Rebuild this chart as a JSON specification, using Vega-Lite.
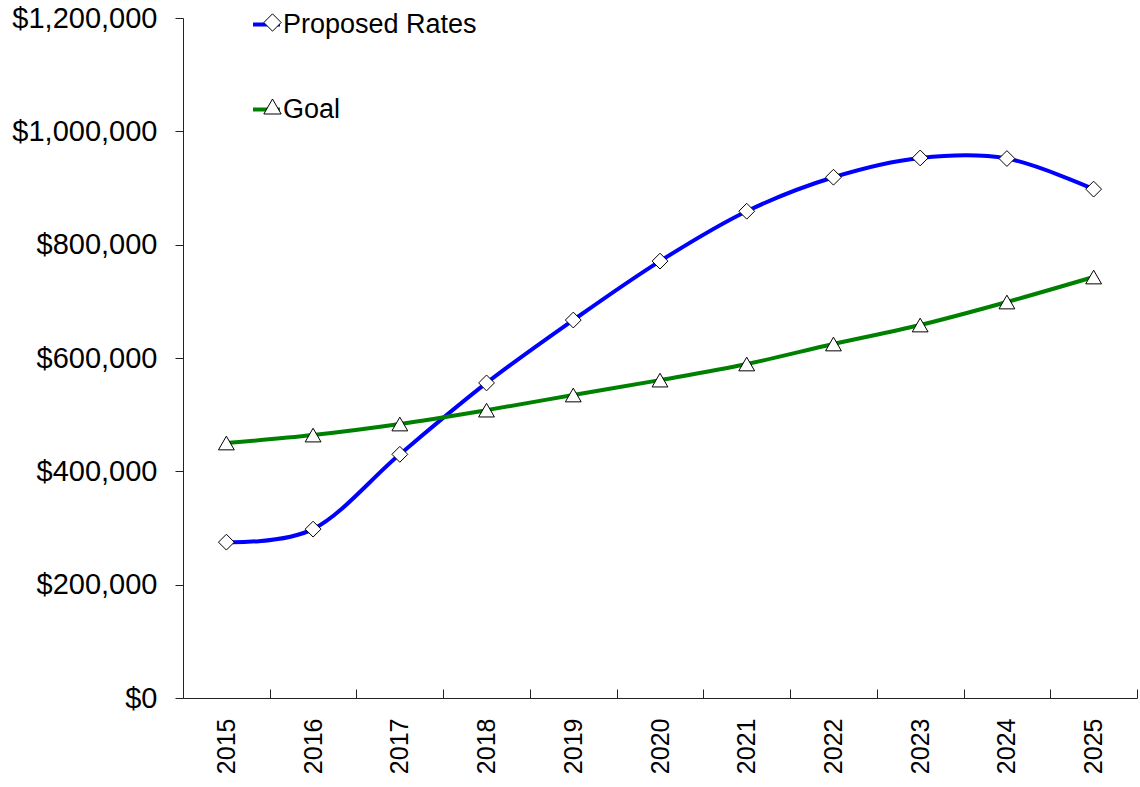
{
  "$schema": "https://vega.github.io/schema/vega-lite/v6.json",
  "width": 954,
  "height": 680,
  "autosize": {"type": "none"},
  "padding": {"left": 183, "top": 18, "right": 3, "bottom": 89},
  "background": "white",
  "config": {
    "view": {"stroke": null},
    "font": "Liberation Sans",
    "axis": {"grid": false, "domainColor": "#222222", "tickColor": "#222222", "labelColor": "#000000", "domainWidth": 1, "tickWidth": 1}
  },
  "data": {
    "values": [
      {"year": "2015", "series": "Proposed Rates", "marker": "Proposed Rates ", "value": 275000},
      {"year": "2016", "series": "Proposed Rates", "marker": "Proposed Rates ", "value": 298000},
      {"year": "2017", "series": "Proposed Rates", "marker": "Proposed Rates ", "value": 430000},
      {"year": "2018", "series": "Proposed Rates", "marker": "Proposed Rates ", "value": 556000},
      {"year": "2019", "series": "Proposed Rates", "marker": "Proposed Rates ", "value": 667000},
      {"year": "2020", "series": "Proposed Rates", "marker": "Proposed Rates ", "value": 771000},
      {"year": "2021", "series": "Proposed Rates", "marker": "Proposed Rates ", "value": 859000},
      {"year": "2022", "series": "Proposed Rates", "marker": "Proposed Rates ", "value": 919000},
      {"year": "2023", "series": "Proposed Rates", "marker": "Proposed Rates ", "value": 953000},
      {"year": "2024", "series": "Proposed Rates", "marker": "Proposed Rates ", "value": 952000},
      {"year": "2025", "series": "Proposed Rates", "marker": "Proposed Rates ", "value": 898000},
      {"year": "2015", "series": "Goal", "marker": "Goal ", "value": 450000},
      {"year": "2016", "series": "Goal", "marker": "Goal ", "value": 464000},
      {"year": "2017", "series": "Goal", "marker": "Goal ", "value": 483500},
      {"year": "2018", "series": "Goal", "marker": "Goal ", "value": 508000},
      {"year": "2019", "series": "Goal", "marker": "Goal ", "value": 534700},
      {"year": "2020", "series": "Goal", "marker": "Goal ", "value": 561000},
      {"year": "2021", "series": "Goal", "marker": "Goal ", "value": 589400},
      {"year": "2022", "series": "Goal", "marker": "Goal ", "value": 624700},
      {"year": "2023", "series": "Goal", "marker": "Goal ", "value": 658200},
      {"year": "2024", "series": "Goal", "marker": "Goal ", "value": 698800},
      {"year": "2025", "series": "Goal", "marker": "Goal ", "value": 742900}
    ]
  },
  "encoding": {
    "x": {
      "field": "year",
      "type": "ordinal",
      "scale": {"type": "band", "paddingInner": 0, "paddingOuter": 0},
      "axis": {
        "title": null,
        "tickBand": "extent",
        "tickSize": -9,
        "labelAngle": -90,
        "labelAlign": "right",
        "labelBaseline": "middle",
        "labelFontSize": 25,
        "labelPadding": 29
      }
    },
    "y": {
      "field": "value",
      "type": "quantitative",
      "scale": {"domain": [0, 1200000], "nice": false},
      "axis": {
        "title": null,
        "values": [0, 200000, 400000, 600000, 800000, 1000000, 1200000],
        "format": "$,.0f",
        "tickSize": 8,
        "labelPadding": 18,
        "labelFontSize": 29
      }
    }
  },
  "layer": [
    {
      "mark": {"type": "line", "interpolate": "cardinal", "strokeWidth": 4},
      "encoding": {
        "color": {
          "field": "series",
          "type": "nominal",
          "scale": {"domain": ["Proposed Rates", "Goal"], "range": ["#0000ff", "#008000"]},
          "legend": {
            "title": null,
            "orient": "none",
            "legendX": 68,
            "legendY": -9,
            "padding": 0,
            "symbolType": "stroke",
            "symbolSize": 729,
            "symbolStrokeWidth": 4,
            "labelFontSize": 27,
            "labelOffset": 1,
            "labelLimit": 0,
            "labelColor": "#000000",
            "rowPadding": 56
          }
        }
      }
    },
    {
      "mark": {"type": "point", "filled": true, "fill": "white", "strokeWidth": 1, "size": 250, "opacity": 1},
      "encoding": {
        "shape": {
          "field": "marker",
          "type": "nominal",
          "scale": {"domain": ["Proposed Rates ", "Goal "], "range": ["diamond", "triangle-up"]},
          "legend": {
            "title": null,
            "orient": "none",
            "legendX": 68,
            "legendY": -9,
            "padding": 0,
            "symbolSize": 300,
            "symbolOffset": 8,
            "symbolFillColor": "white",
            "symbolStrokeWidth": 1,
            "labelFontSize": 27,
            "labelOffset": 1,
            "labelLimit": 0,
            "labelExpr": "''",
            "labelOpacity": 0,
            "rowPadding": 56
          }
        },
        "stroke": {
          "field": "marker",
          "type": "nominal",
          "scale": {"domain": ["Proposed Rates ", "Goal "], "range": ["#000000", "#000000"]},
          "legend": {
            "title": null,
            "orient": "none",
            "legendX": 68,
            "legendY": -9,
            "padding": 0,
            "symbolSize": 300,
            "symbolOffset": 8,
            "symbolFillColor": "white",
            "symbolStrokeWidth": 1,
            "labelFontSize": 27,
            "labelOffset": 1,
            "labelLimit": 0,
            "labelExpr": "''",
            "labelOpacity": 0,
            "rowPadding": 56
          }
        }
      }
    }
  ]
}
